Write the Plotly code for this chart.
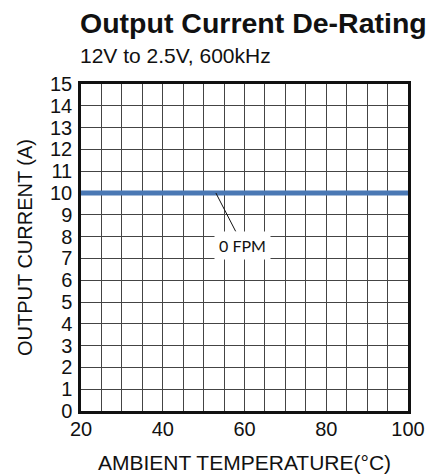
import plotly.graph_objects as go

# Data
temps = [20, 100]
current_0fpm = [10, 10]
x_ticks = [20, 40, 60, 80, 100]
y_ticks = list(range(0, 16))
label_text = "0 FPM"
label_point = (53, 10)
label_pos = (59.6, 7.6)

# The page body adds an 8px offset; size the figure so it fits the window.
W, H = 432, 466

fig = go.Figure()
fig.add_trace(go.Scatter(
    x=temps, y=current_0fpm, mode="lines",
    line=dict(color="#4a78b4", width=5),
    showlegend=False, hoverinfo="skip",
))

fig.add_annotation(
    x=label_point[0], y=label_point[1], ax=label_pos[0], ay=label_pos[1],
    xref="x", yref="y", axref="x", ayref="y",
    text=label_text, showarrow=True, arrowhead=0, arrowwidth=1, arrowcolor="#111",
    bgcolor="white", borderpad=4,
    font=dict(family="Lato", size=16, color="#111"),
)

fig.add_annotation(
    x=-0.008, y=1.086, xref="paper", yref="paper",
    text="12V to 2.5V, 600kHz", showarrow=False, xanchor="left", yanchor="middle",
    font=dict(family="Liberation Sans", size=21, color="#111"),
)

fig.update_layout(
    width=W, height=H,
    margin=dict(l=73, r=32, t=76, b=63, autoexpand=False),
    paper_bgcolor="white", plot_bgcolor="white",
    title=dict(
        text="<b>Output Current De-Rating</b>",
        xref="container", yref="container",
        x=72 / W, xanchor="left", y=1 - 15 / H, yanchor="middle",
        font=dict(family="Liberation Sans", size=28.5, color="#111"),
    ),
    xaxis=dict(
        range=[20, 100], tickvals=x_ticks, ticks="", automargin=False,
        ticklabelstandoff=-2,
        showgrid=True, gridcolor="#444", gridwidth=1,
        minor=dict(dtick=5, showgrid=True, gridcolor="#444", gridwidth=1),
        showline=True, linecolor="#111", linewidth=2.5, mirror=True,
        tickfont=dict(family="Liberation Sans", size=20, color="#111"),
        title=dict(text="AMBIENT TEMPERATURE(°C)", standoff=18,
                   font=dict(family="Liberation Sans", size=21, color="#111")),
        zeroline=False,
    ),
    yaxis=dict(
        range=[0, 15], tickvals=y_ticks, ticks="", automargin=False,
        ticklabelstandoff=2,
        showgrid=True, gridcolor="#444", gridwidth=1,
        showline=True, linecolor="#111", linewidth=2.5, mirror=True,
        tickfont=dict(family="Liberation Sans", size=20, color="#111"),
        title=dict(text="OUTPUT CURRENT (A)", standoff=13,
                   font=dict(family="Liberation Sans", size=20, color="#111")),
        zeroline=False,
    ),
)

fig.write_html("out.html")
